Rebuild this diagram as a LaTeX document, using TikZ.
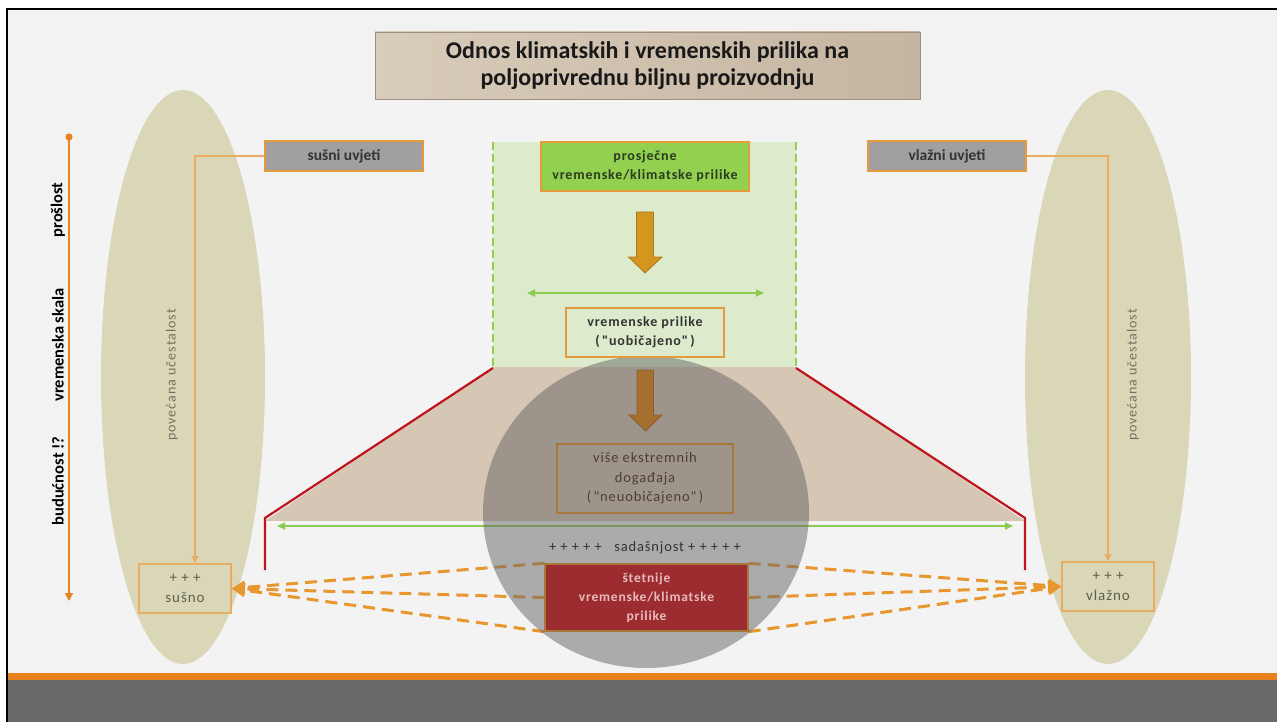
\documentclass[tikz,border=0pt]{standalone}
\usepackage{fontspec}
\setmainfont{Carlito}
\newfontfamily\spaced[LetterSpace=6]{Carlito}
\newfontfamily\wide[LetterSpace=7]{Carlito}
\usetikzlibrary{arrows.meta,calc}

\definecolor{bgc}{HTML}{F2F2F2}
\definecolor{bgpanel}{HTML}{F3F3F3}
\definecolor{ellc}{HTML}{D9D7B7}
\definecolor{tlorange}{HTML}{E8821E}
\definecolor{tanline}{HTML}{E8AC62}
\definecolor{boxedge}{HTML}{E59A3C}
\definecolor{sidegray}{HTML}{A0A0A0}
\definecolor{greenbg}{HTML}{DDEBCD}
\definecolor{greendash}{HTML}{92D050}
\definecolor{greenbox}{HTML}{92D050}
\definecolor{greenarr}{HTML}{8CCB52}
\definecolor{trap}{HTML}{D6C7B4}
\definecolor{titleA}{HTML}{D8CCBA}
\definecolor{titleB}{HTML}{C5B5A1}
\definecolor{titleedge}{HTML}{9E907E}
\definecolor{veil}{HTML}{696969}
\definecolor{arrowgold}{HTML}{D4961F}
\definecolor{arrowbrown}{HTML}{A56F2F}
\definecolor{brownedge}{HTML}{A8783A}
\definecolor{browntext}{HTML}{4E3F30}
\definecolor{darkred}{HTML}{9C2C2F}
\definecolor{redtext}{HTML}{E8BCBC}
\definecolor{redline}{HTML}{C0141C}
\definecolor{dashorange}{HTML}{E8962E}
\definecolor{footgray}{HTML}{696969}
\definecolor{olivetext}{HTML}{727262}
\definecolor{endtext}{HTML}{5E5E4E}
\definecolor{avgtext}{HTML}{2C3A20}

\begin{document}
\begin{tikzpicture}[x=1pt,y=-1pt,
  every node/.style={inner sep=0pt, align=center},
  titlebox/.style={draw=titleedge, line width=0.8pt, left color=titleA, right color=titleB,
    minimum width=545pt, minimum height=67pt,
    font=\fontsize{24}{27}\selectfont\bfseries, text=black!90},
  sidebox/.style={draw=boxedge, line width=1.4pt, fill=sidegray,
    minimum width=158pt, minimum height=30pt,
    font=\fontsize{15.5}{18}\selectfont\bfseries, text=black!80},
  endbox/.style={draw=tanline, line width=1.4pt,
    minimum width=92pt, minimum height=49pt,
    font=\spaced\fontsize{15}{20}\selectfont, text=endtext},
  greenbox/.style={draw=boxedge, line width=1.4pt, fill=greenbox,
    minimum width=208pt, minimum height=49pt,
    font=\spaced\fontsize{14}{19}\selectfont\bfseries, text=avgtext},
  usualbox/.style={draw=boxedge, line width=1.4pt,
    minimum width=158pt, minimum height=49pt,
    font=\spaced\fontsize{14}{19}\selectfont\bfseries, text=black!80},
  extremebox/.style={draw=brownedge, line width=1.4pt,
    minimum width=176pt, minimum height=69pt,
    font=\spaced\fontsize{14.5}{19.5}\selectfont, text=browntext},
  harmbox/.style={draw=brownedge, line width=1.4pt, fill=darkred,
    minimum width=203pt, minimum height=67pt,
    font=\spaced\fontsize{13.5}{19}\selectfont\bfseries, text=redtext},
  timelabel/.style={rotate=90, font=\fontsize{16.5}{18}\selectfont\bfseries, text=black},
  freqlabel/.style={rotate=90, font=\wide\fontsize{14}{16}\selectfont, text=olivetext},
  feed/.style={draw=tanline, line width=1.2pt, -{Triangle[length=7pt,width=7pt]}},
  impact/.style={draw=dashorange, line width=3pt, dash pattern=on 12pt off 7pt,
    -{Triangle[length=13pt,width=13pt]}},
  spread/.style={draw=greenarr, line width=1.8pt,
    {Triangle[length=8pt,width=7pt]}-{Triangle[length=8pt,width=7pt]}},
  bigarrow/.style={line width=0.8pt}
]
\useasboundingbox (0,0) rectangle (1277,722);

% page, frame and footer
\fill[white] (0,0) rectangle (1277,722);
\fill[bgc] (8,10) rectangle (1277,673);
\fill[bgpanel] (100,90) rectangle (1192,668);
\draw[black, line width=2.6pt] (7,722) -- (7,9) -- (1277,9);
\fill[tlorange] (8,673) rectangle (1277,680);
\fill[footgray] (8,680) rectangle (1277,722);

% olive ellipses at both sides
\fill[ellc] (183,377) ellipse [x radius=82pt, y radius=287pt];
\fill[ellc] (1108,377) ellipse [x radius=83pt, y radius=287pt];

% time scale on the left
\coordinate (tl-top) at (69,137);
\coordinate (tl-end) at (69,601);
\draw[tlorange, line width=1.5pt, -{Triangle[length=8pt,width=8pt]}] (tl-top) -- (tl-end);
\fill[tlorange] (tl-top) circle (3.6pt);
\node[timelabel] (past) at (58,210) {prošlost};
\node[timelabel] (scale) at (58,345) {vremenska skala};
\node[timelabel] (future) at (58,481) {budućnost !?};

% trapezoid spreading from the normal range
\fill[trap] (493,367) -- (796,367) -- (1025,521) -- (265,521) -- cycle;
\draw[white, line width=1.6pt] (265,522.5) -- (1025,522.5);

% green band of average conditions
\fill[greenbg] (493,142) rectangle (796,367);
\draw[greendash, line width=1.8pt, dash pattern=on 8pt off 4pt] (493,142) -- (493,367);
\draw[greendash, line width=1.8pt, dash pattern=on 8pt off 4pt] (796,142) -- (796,367);

% red bounds
\draw[redline, line width=2.2pt] (493,368) -- (265,518) -- (265,570);
\draw[redline, line width=2.2pt] (796,368) -- (1025,518) -- (1025,570);

% range arrows
\coordinate (s1l) at (527,293);
\coordinate (s1r) at (764,293);
\draw[spread] (s1l) -- (s1r);
\coordinate (s2l) at (277,526);
\coordinate (s2r) at (1013,526);
\draw[spread] (s2l) -- (s2r);

% boxes
\node[sidebox] (dry) at (344,156) {sušni uvjeti};
\node[sidebox] (wet) at (947,156) {vlažni uvjeti};
\node[endbox] (dryend) at (185,588.5) {+ + +\\sušno};
\node[endbox] (wetend) at (1108,586.5) {+ + +\\vlažno};
\node[harmbox, draw=none, fill=none] (harmpos) at (646.5,597.5) {};

% dashed impact lines (under the grey disc)
\draw[impact] (harmpos.north west) -- (dryend.east);
\draw[impact] (harmpos.west) -- (dryend.east);
\draw[impact] (harmpos.south west) -- (dryend.east);
\draw[impact] (harmpos.north east) -- (wetend.west);
\draw[impact] (harmpos.east) -- (wetend.west);
\draw[impact] (harmpos.south east) -- (wetend.west);

% feed lines from the side boxes
\coordinate (dryin) at (195,563);
\draw[feed] (dry.west) -| (dryin);
\draw[feed] (wet.east) -| (wetend.north);

% frequency labels
\node[freqlabel] (dryfreq) at (172,375) {povećana učestalost};
\node[freqlabel] (wetfreq) at (1133,375) {povećana učestalost};

% grey disc
\fill[veil, opacity=0.52] (646,512) ellipse [x radius=163pt, y radius=156pt];

% central chain
\node[greenbox] (avg) at (645,166.5) {prosječne\\vremenske/klimatske prilike};
\node[usualbox] (usual) at (645,332.5) {vremenske prilike\\(\,"uobičajeno"\,)};
\node[extremebox] (extreme) at (645,478.5) {više ekstremnih\\događaja\\(\,"neuobičajeno"\,)};
\node[font=\spaced\fontsize{14.5}{17}\selectfont, text=black!80] (now) at (645,548)
  {+ + + + + \ \ sadašnjost + + + + +};
\node[harmbox] (harm) at (646.5,597.5) {štetnije\\vremenske/klimatske\\prilike};

\fill[arrowgold, draw=arrowgold!80!black, bigarrow]
  (636.5,212) -- (653.5,212) -- (653.5,257) -- (662,257) -- (645,273)
  -- (628.5,257) -- (636.5,257) -- cycle;
\fill[arrowbrown, draw=arrowbrown!85!black, bigarrow]
  (637,370) -- (653.5,370) -- (653.5,415) -- (662,415) -- (645.5,431)
  -- (629,415) -- (637,415) -- cycle;

% title
\node[titlebox] (title) at (647.5,65.5)
  {Odnos klimatskih i vremenskih prilika na\\poljoprivrednu biljnu proizvodnju};
\end{tikzpicture}
\end{document}
